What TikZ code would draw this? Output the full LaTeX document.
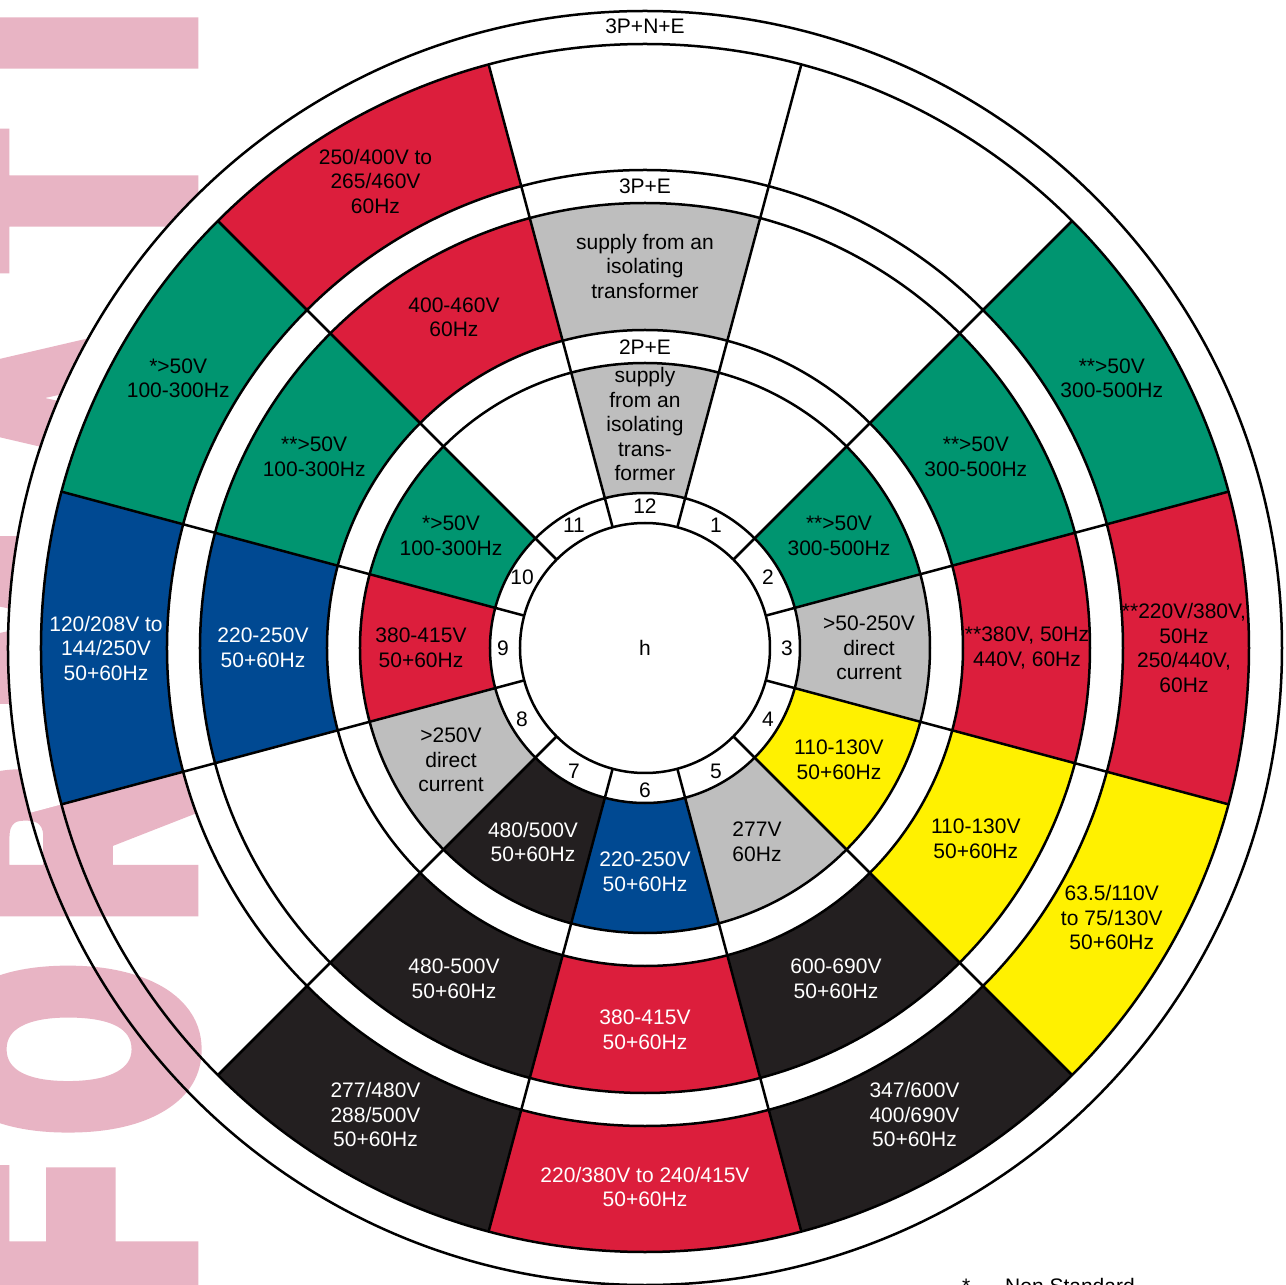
\documentclass[tikz,border=0pt]{standalone}
\usepackage{fontspec}
\setmainfont{Liberation Sans}
\newfontfamily\wmfont{Liberation Sans}[BoldFeatures={FakeBold=10}]
\usepackage{xcolor}
\usetikzlibrary{positioning,calc}

\definecolor{segred}{RGB}{220,30,60}
\definecolor{seggreen}{RGB}{0,149,112}
\definecolor{segblue}{RGB}{0,73,146}
\definecolor{segyellow}{RGB}{255,241,0}
\definecolor{seggray}{RGB}{190,190,190}
\definecolor{segblack}{RGB}{35,31,32}
\definecolor{wmpink}{RGB}{232,180,196}

% clock / fill / text colour / text
\newcommand{\innerring}{%
  2/seggreen/black/{**>50V\\300-500Hz},
  3/seggray/black/{>50-250V\\direct\\current},
  4/segyellow/black/{110-130V\\50+60Hz},
  5/seggray/black/{277V\\60Hz},
  6/segblue/white/{220-250V\\50+60Hz},
  7/segblack/white/{480/500V\\50+60Hz},
  8/seggray/black/{>250V\\direct\\current},
  9/segred/black/{380-415V\\50+60Hz},
  10/seggreen/black/{*>50V\\100-300Hz},
  12/seggray/black/{supply\\from an\\isolating\\trans-\\former}}
\newcommand{\middlering}{%
  2/seggreen/black/{**>50V\\300-500Hz},
  3/segred/black/{**380V, 50Hz\\440V, 60Hz},
  4/segyellow/black/{110-130V\\50+60Hz},
  5/segblack/white/{600-690V\\50+60Hz},
  6/segred/white/{380-415V\\50+60Hz},
  7/segblack/white/{480-500V\\50+60Hz},
  9/segblue/white/{220-250V\\50+60Hz},
  10/seggreen/black/{**>50V\\100-300Hz},
  11/segred/black/{400-460V\\60Hz},
  12/seggray/black/{supply from an\\isolating\\transformer}}
\newcommand{\outerring}{%
  2/seggreen/black/{**>50V\\300-500Hz},
  3/segred/black/{**220V/380V,\\50Hz\\250/440V,\\60Hz},
  4/segyellow/black/{63.5/110V\\to 75/130V\\50+60Hz},
  5/segblack/white/{347/600V\\400/690V\\50+60Hz},
  6/segred/white/{220/380V to 240/415V\\50+60Hz},
  7/segblack/white/{277/480V\\288/500V\\50+60Hz},
  9/segblue/white/{120/208V to\\144/250V\\50+60Hz},
  10/seggreen/black/{*>50V\\100-300Hz},
  11/segred/black/{250/400V to\\265/460V\\60Hz}}

% one 30 degree piece of a ring: clock, inner r, outer r, colour
\newcommand{\ringseg}[4]{%
  \pgfmathsetmacro{\segA}{75-30*#1}%
  \pgfmathsetmacro{\segB}{105-30*#1}%
  \fill[#4] (\segA:#2pt) arc[start angle=\segA, end angle=\segB, radius=#2pt]
    -- (\segB:#3pt) arc[start angle=\segB, end angle=\segA, radius=#3pt] -- cycle;}

\begin{document}
\begin{tikzpicture}[
    x=1pt, y=1pt,
    ringline/.style={line width=2.5pt},
    segtext/.style={align=center, inner sep=0pt, font=\fontsize{21}{24.5}\selectfont},
    wmletter/.style={text=wmpink, inner sep=0pt, anchor=base, rotate=90, xscale=0.64,
        font=\wmfont\bfseries\fontsize{328}{328}\selectfont}
]
    % Page frame
    \useasboundingbox (-645,-637) rectangle (641,648);
    \clip (-645,-637) rectangle (641,648);
    \fill[white] (-645,-637) rectangle (641,648);

    % Watermark behind the wheel
    \foreach \ltr/\ypos [count=\i] in {F/-584, O/-401, R/-196, M/28, A/250, T/447, I/605}
        \node[wmletter] (wm\i) at (-463,\ypos) {\ltr};

    % White disc, left open at the 8 o'clock outer wedge
    \fill[white] (0,0) circle (478pt);
    \fill[white] (225:478pt) arc[start angle=225, end angle=555, radius=478pt]
        -- (195:637pt) arc[start angle=195, end angle=-135, radius=637pt] -- cycle;

    % Coloured pieces
    \foreach \k/\col/\tcol/\txt in \innerring {\ringseg{\k}{155}{285}{\col}}
    \foreach \k/\col/\tcol/\txt in \middlering {\ringseg{\k}{318}{445}{\col}}
    \foreach \k/\col/\tcol/\txt in \outerring {\ringseg{\k}{478}{604}{\col}}

    % Rings and spokes
    \foreach \r in {125,155,285,318,445,478,604,637}
        \draw[ringline] (0,0) circle (\r pt);
    \foreach \k in {1,...,12}
        \draw[ringline] ({75-30*\k}:125pt) -- ({75-30*\k}:604pt);

    % Texts in the pieces
    \foreach \k/\col/\tcol/\txt in \innerring
        \node[segtext, text=\tcol] (inner\k) at ({90-30*\k}:224pt) {\txt};
    \foreach \k/\col/\tcol/\txt in \middlering
        \node[segtext, text=\tcol] (middle\k) at ({90-30*\k}:382pt) {\txt};
    \foreach \k/\col/\tcol/\txt in \outerring
        \node[segtext, text=\tcol] (outer\k) at ({90-30*\k}:539pt) {\txt};

    % Clock numbers and ring names
    \foreach \k in {1,...,12}
        \node[segtext] (num\k) at ({90-30*\k}:142pt) {\k};
    \node[segtext] (hub) at (0,0) {h};
    \node[segtext] (lbl2pe) at (90:301pt) {2P+E};
    \node[segtext] (lbl3pe) at (90:462pt) {3P+E};
    \node[segtext] (lbl3pne) at (90:622pt) {3P+N+E};

    % Footnote, cut by the page edge
    \node[segtext, anchor=base west] (fnstar) at (317,-645) {*};
    \node[segtext, anchor=base west] (fnnote) at (360,-645) {Non Standard};
\end{tikzpicture}
\end{document}
